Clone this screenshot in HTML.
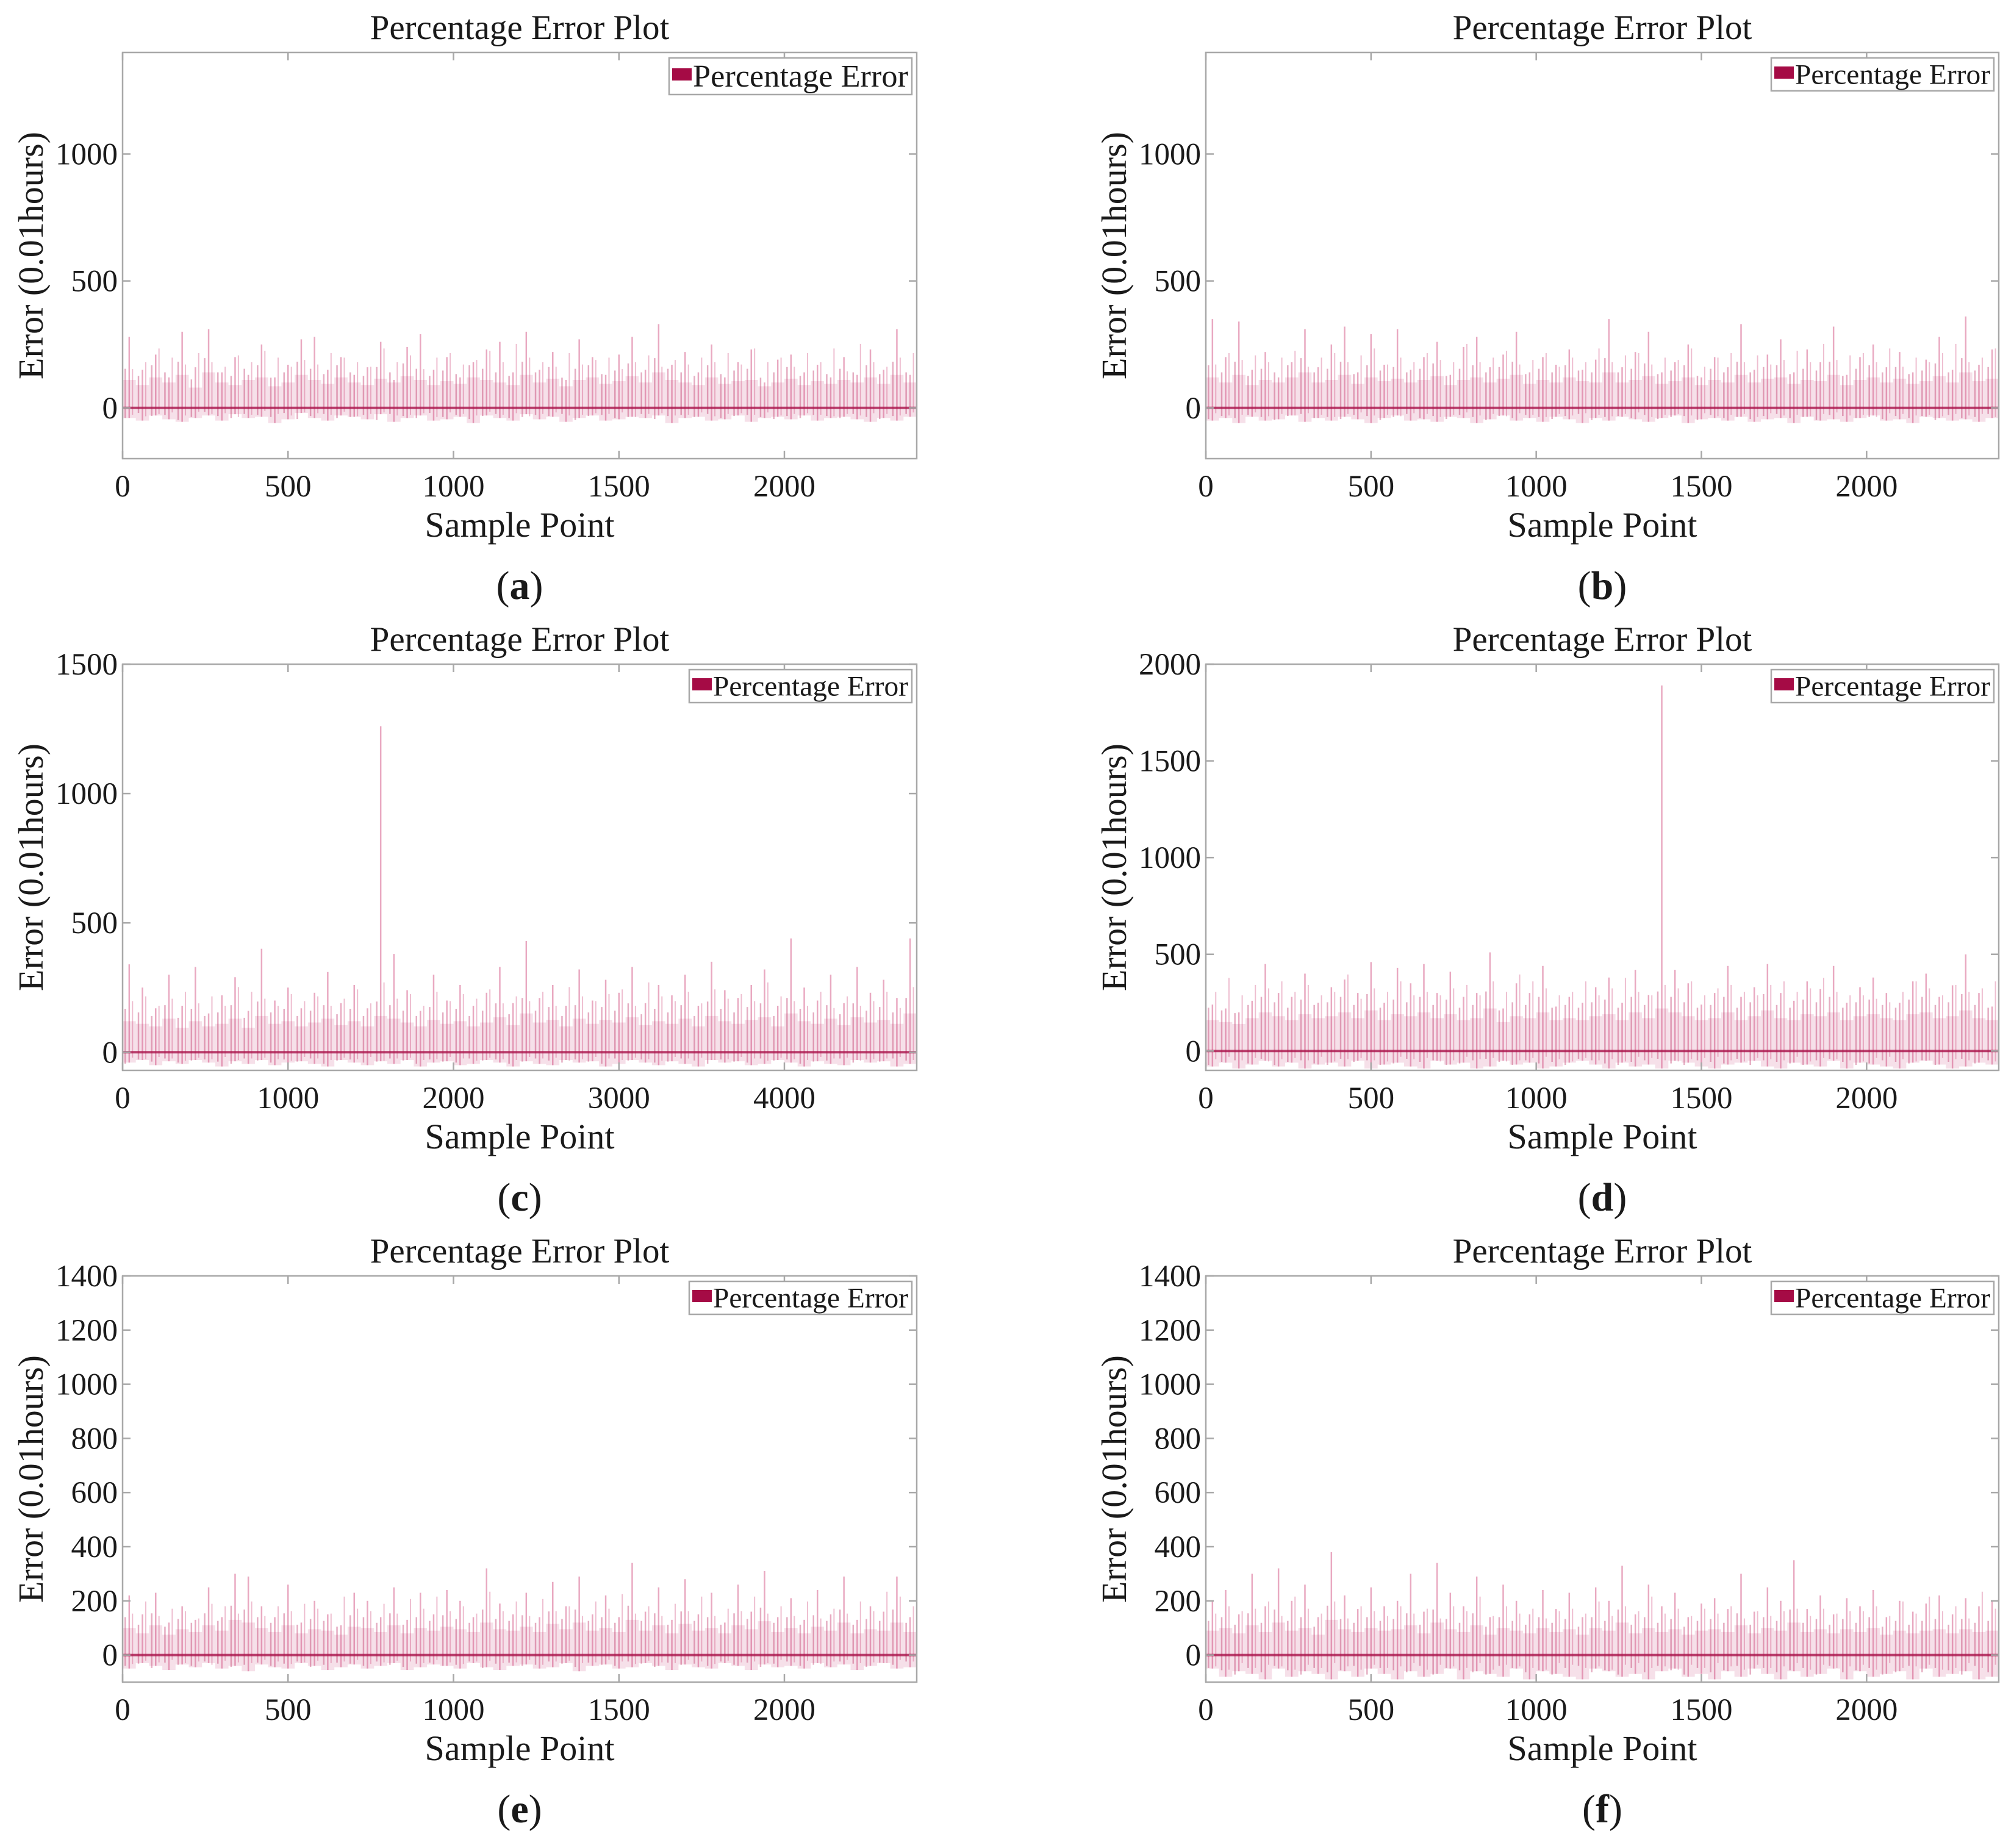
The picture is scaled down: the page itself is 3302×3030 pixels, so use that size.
<!DOCTYPE html>
<html><head><meta charset="utf-8"><style>
html,body{margin:0;padding:0;background:#fff}
svg{display:block}
text{font-family:"Liberation Serif",serif;fill:#1a1a1a}
</style></head><body>
<svg id="fig" width="3302" height="3030" viewBox="0 0 3302 3030" xmlns="http://www.w3.org/2000/svg"></svg>
<script>
// ---- data ----
const panelIds = ['a','b','c','d','e','f'];
const sampleCounts = [2400, 2400, 4800, 2400, 2400, 2400];
const yMins = [-200, -200, -70, -100, -100, -100];
const yMaxs = [1400, 1400, 1500, 2000, 1400, 1400];
const yTicksAB = [0, 500, 1000];
const yTicksC = [0, 500, 1000, 1500];
const yTicksD = [0, 500, 1000, 1500, 2000];
const yTicksEF = [0, 200, 400, 600, 800, 1000, 1200, 1400];
const xTicks2400 = [0, 500, 1000, 1500, 2000];
const xTicks4800 = [0, 1000, 2000, 3000, 4000];

const upperA = [280,150,210,120,300,160,310,140,200,130,250,120,170,270,280,150,200,130,160,260,110,240,290,150,200,120,180,230,260,140,300,150,220,110,270,200,130,210,280,150,330,170,220,140,250,120,180,230,100,190,210,140,170,120,200,130,230,150,310,130];
const lowerA = [-40,-50,-30,-45,-55,-40,-30,-50,-25,-40,-35,-60,-45,-20,-40,-50,-30,-35,-45,-25,-55,-40,-30,-50,-45,-35,-60,-30,-40,-50,-25,-45,-35,-55,-40,-30,-50,-45,-35,-40,-30,-60,-40,-35,-50,-45,-30,-55,-40,-35,-45,-30,-50,-40,-35,-45,-55,-40,-50,-35];
const midA = [110,90,120,100,130,80,140,100,90,110,120,85,100,130,110,95,120,100,90,115,100,125,110,90,105,95,120,110,100,90,130,100,115,85,110,120,95,105,125,100,140,110,100,90,120,95,105,110,85,100,115,90,105,95,110,100,120,95,130,100];

const upperB = [350,200,340,150,220,120,180,310,160,250,320,140,290,170,310,150,200,260,130,240,280,160,210,300,140,200,170,230,150,190,350,160,220,300,140,180,250,120,200,160,330,150,210,270,140,230,180,320,130,200,250,160,220,140,190,280,150,360,170,230];
const lowerB = [-50,-40,-60,-35,-50,-45,-30,-55,-40,-50,-35,-45,-60,-40,-30,-50,-45,-55,-35,-40,-60,-45,-30,-50,-40,-55,-35,-45,-60,-40,-50,-35,-45,-55,-40,-30,-60,-45,-40,-50,-35,-55,-45,-40,-60,-35,-50,-45,-55,-40,-30,-50,-45,-60,-35,-40,-50,-45,-55,-40];
const midB = [120,100,130,90,110,100,120,140,100,110,130,95,120,105,115,100,110,125,90,110,120,100,115,130,95,110,100,120,105,100,140,100,110,125,95,105,120,90,110,100,130,100,115,120,95,110,105,130,90,110,120,100,115,95,105,125,100,140,105,115];

const upperC = [340,250,170,300,180,330,150,220,290,160,400,200,250,170,230,310,190,260,170,1260,380,240,160,300,200,260,180,230,330,190,430,210,260,180,320,200,280,230,330,190,260,220,300,180,350,240,210,260,320,180,440,250,200,300,190,330,230,280,210,440];
const lowerC = [-40,-30,-50,-35,-45,-30,-40,-55,-35,-45,-30,-50,-40,-35,-45,-55,-30,-40,-50,-35,-45,-30,-55,-40,-35,-50,-45,-30,-40,-55,-35,-45,-50,-30,-40,-35,-55,-45,-30,-40,-50,-35,-45,-55,-30,-40,-35,-50,-45,-30,-40,-55,-35,-45,-50,-30,-40,-35,-55,-45];
const midC = [120,110,100,130,95,120,100,110,130,95,140,110,120,100,115,130,105,120,100,140,130,115,100,125,110,120,100,115,135,105,150,115,125,100,130,110,125,115,135,105,120,110,130,100,140,120,110,125,135,100,150,120,110,130,105,135,115,125,110,150];

const upperD = [240,220,200,260,450,300,280,400,250,330,370,300,460,250,430,350,450,300,410,280,300,510,220,350,300,440,230,280,250,330,380,250,420,290,1890,420,350,240,300,440,280,330,450,300,260,360,320,440,250,330,380,300,250,360,400,280,340,500,300,230];
const lowerD = [-80,-60,-90,-70,-50,-80,-60,-90,-70,-60,-80,-50,-90,-70,-60,-80,-90,-50,-70,-60,-90,-80,-50,-70,-60,-90,-80,-60,-50,-70,-90,-60,-80,-70,-90,-50,-60,-80,-90,-70,-60,-50,-80,-90,-60,-70,-80,-50,-90,-60,-70,-80,-90,-60,-50,-70,-90,-80,-60,-70];
const midD = [160,150,140,170,200,180,160,190,170,180,200,170,210,160,190,180,200,170,190,160,170,220,150,180,170,200,160,170,160,180,190,160,200,170,220,200,180,160,170,200,160,180,210,170,160,190,180,200,160,180,190,170,160,190,200,170,180,210,170,160];

const upperE = [220,150,230,120,180,130,250,140,300,290,180,140,260,120,200,150,110,230,200,140,250,130,230,150,240,200,140,320,190,150,230,140,270,180,290,150,220,140,340,160,250,130,280,150,230,120,260,160,310,140,210,130,240,150,290,130,180,160,290,140];
const lowerE = [-50,-30,-40,-55,-35,-45,-30,-50,-40,-60,-35,-45,-50,-30,-40,-55,-45,-35,-50,-40,-30,-55,-45,-35,-40,-50,-30,-45,-55,-40,-35,-50,-45,-30,-60,-40,-35,-50,-45,-30,-40,-55,-35,-45,-50,-30,-40,-55,-35,-45,-40,-50,-30,-45,-35,-55,-40,-30,-50,-45];
const midE = [100,80,110,75,95,85,110,90,130,120,100,85,110,80,95,90,75,105,100,85,110,80,100,90,105,95,85,120,95,90,105,85,115,95,120,90,100,85,130,90,110,80,115,90,100,80,110,95,125,85,100,80,105,90,120,80,95,90,120,85];

const upperF = [200,240,150,300,180,320,200,260,140,380,220,170,250,180,200,300,160,340,230,180,290,140,260,200,150,240,170,230,140,250,200,330,150,260,180,230,140,190,210,170,300,160,250,200,350,170,220,150,210,180,240,140,200,160,190,220,150,210,180,200];
const lowerF = [-50,-80,-60,-70,-90,-50,-80,-60,-70,-90,-60,-80,-50,-70,-90,-60,-80,-70,-50,-90,-60,-70,-80,-50,-90,-60,-70,-80,-90,-50,-60,-80,-70,-90,-60,-50,-80,-70,-90,-60,-80,-50,-70,-90,-60,-80,-70,-50,-90,-60,-80,-70,-60,-90,-50,-80,-70,-60,-90,-80];
const midF = [90,100,80,110,85,120,90,100,75,130,95,85,100,90,95,110,80,120,95,85,110,75,100,90,80,100,85,95,75,100,90,120,80,100,85,95,75,90,95,85,110,80,100,90,120,85,95,80,95,85,100,75,90,80,90,95,80,95,85,90];

const uppers = [upperA, upperB, upperC, upperD, upperE, upperF];
const lowers = [lowerA, lowerB, lowerC, lowerD, lowerE, lowerF];
const mids = [midA, midB, midC, midD, midE, midF];
const yTickSets = [yTicksAB, yTicksAB, yTicksC, yTicksD, yTicksEF, yTicksEF];
const xTickSets = [xTicks2400, xTicks2400, xTicks4800, xTicks2400, xTicks2400, xTicks2400];

// ---- layout ----
const NS = 'http://www.w3.org/2000/svg';
const svg = document.getElementById('fig');
const colX = [[201,1503],[1977,3277]];
const rowY = [[86,752],[1089,1755],[2092,2758]];
const legendFont = [52,47,47,47,47,47];

function mk(tag, attrs, parent){
  const e = document.createElementNS(NS, tag);
  for (const k in attrs) e.setAttribute(k, attrs[k]);
  (parent||svg).appendChild(e);
  return e;
}

panelIds.forEach((pid, p) => {
  const col = p % 2, row = Math.floor(p / 2);
  const x0 = colX[col][0], x1 = colX[col][1], y0 = rowY[row][0], y1 = rowY[row][1];
  const N = sampleCounts[p], yMin = yMins[p], yMax = yMaxs[p];
  const sx = v => x0 + (v / N) * (x1 - x0);
  const sy = v => y1 - (v - yMin) / (yMax - yMin) * (y1 - y0);
  const g = mk('g', {});
  
  

  const sg = mk('g', {}, g);
  
  
  const up = uppers[p], lo = lowers[p], md = mids[p];
  const n = up.length;
  for (let i = 0; i < n; i++) {
    const xs = sx((i + 0.5) * N / n);
    const band = mk('line', {x1: xs, x2: xs, y1: sy(lo[i]), y2: sy(md[i]), stroke: 'rgba(200,60,120,0.16)', 'stroke-width': (x1-x0)/n}, sg);
    
    
  }
  for (let i = 0; i < n; i++) {
    const xs = sx((i + 0.5) * N / n);
    const l = mk('line', {x1: xs, x2: xs, y1: sy(lo[i]), y2: sy(up[i]), stroke: 'rgba(200,40,100,0.4)', 'stroke-width': 2.5}, sg);
    
    
    const xs2 = sx((i + 0.2) * N / n);
    const l2 = mk('line', {x1: xs2, x2: xs2, y1: sy(lo[(i+7)%n]*0.8), y2: sy(md[i]*1.4), stroke: 'rgba(180,20,80,0.35)', 'stroke-width': 2.5}, sg);
    
    
    const xs3 = sx((i + 0.75) * N / n);
    const l3 = mk('line', {x1: xs3, x2: xs3, y1: sy(lo[(i+3)%n]*0.6), y2: sy(md[(i+11)%n]*1.8), stroke: 'rgba(200,40,100,0.3)', 'stroke-width': 2}, sg);
    
    
  }
  const base = mk('line', {x1: x0, x2: x1, y1: sy(0), y2: sy(0), stroke: 'rgba(170,20,75,0.8)', 'stroke-width': 4}, sg);
  
  

  const box = mk('rect', {x: x0, y: y0, width: x1-x0, height: y1-y0, fill: 'none', stroke: '#a8a8a8', 'stroke-width': 2.5}, g);
  
  

  yTickSets[p].forEach(v => {
    const y = sy(v);
    mk('line', {x1: x0, x2: x0+13, y1: y, y2: y, stroke: '#a8a8a8', 'stroke-width': 2.5}, g);
    mk('line', {x1: x1-13, x2: x1, y1: y, y2: y, stroke: '#a8a8a8', 'stroke-width': 2.5}, g);
    const t = mk('text', {x: x0 - 8, y: y + 17, 'text-anchor': 'end', 'font-size': 51}, g);
    t.textContent = v;
    
    
  });
  xTickSets[p].forEach(v => {
    const x = sx(v);
    mk('line', {x1: x, x2: x, y1: y1, y2: y1-13, stroke: '#a8a8a8', 'stroke-width': 2.5}, g);
    mk('line', {x1: x, x2: x, y1: y0, y2: y0+13, stroke: '#a8a8a8', 'stroke-width': 2.5}, g);
    const t = mk('text', {x: x, y: y1 + 62, 'text-anchor': 'middle', 'font-size': 51}, g);
    t.textContent = v;
    
    
  });

  const cx = (x0 + x1) / 2, cy = (y0 + y1) / 2;
  const title = mk('text', {x: cx, y: y0 - 22, 'text-anchor': 'middle', 'font-size': 57}, g);
  title.textContent = 'Percentage Error Plot';
  
  

  const xl = mk('text', {x: cx, y: y1 + 128, 'text-anchor': 'middle', 'font-size': 58}, g);
  xl.textContent = 'Sample Point';
  
  

  const ylx = x0 - 131;
  const yl = mk('text', {x: ylx, y: cy, 'text-anchor': 'middle', 'font-size': 58, transform: 'rotate(-90 ' + ylx + ' ' + cy + ')'}, g);
  yl.textContent = 'Error (0.01hours)';
  
  

  const pl = mk('text', {x: cx, y: y1 + 230, 'text-anchor': 'middle', 'font-size': 66}, g);
  pl.innerHTML = '(<tspan font-weight="bold">' + pid + '</tspan>)';
  
  

  const fs = legendFont[p];
  const lw = p === 0 ? 398 : 365, lh = p === 0 ? 60 : 54;
  const lx = x1 - 8 - lw, ly = y0 + 9;
  const lg = mk('g', {}, g);
  
  
  mk('rect', {x: lx, y: ly, width: lw, height: lh, fill: '#fff', stroke: '#a8a8a8', 'stroke-width': 2.5}, lg);
  const sw = mk('rect', {x: lx + 5, y: ly + lh/2 - 13, width: 32, height: 20, fill: '#a50b45'}, lg);
  
  
  const lt = mk('text', {x: lx + 39, y: ly + lh/2 + fs*0.33, 'font-size': fs, textLength: lw - 45, lengthAdjust: 'spacingAndGlyphs'}, lg);
  lt.textContent = 'Percentage Error';
  
  
});
</script>
</body></html>
